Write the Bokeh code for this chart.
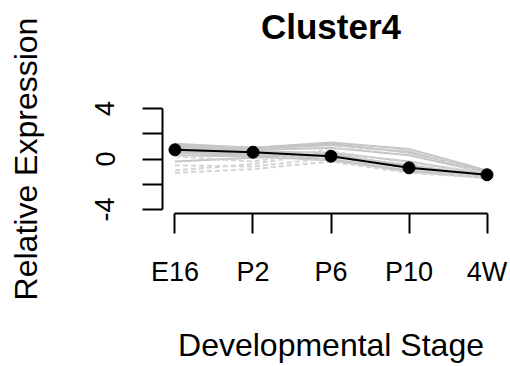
from bokeh.plotting import figure
from bokeh.models import Range1d, FixedTicker, LinearAxis
from bokeh.embed import file_html
from bokeh.resources import INLINE

# Developmental stages along the x axis
stages = ["E16", "P2", "P6", "P10", "4W"]
stage_pos = [0, 1, 2, 3, 4]

# Cluster mean profile
cluster_mean = [0.73, 0.54, 0.22, -0.70, -1.25]

# Individual gene profiles in the cluster
gene_01 = [1.2, 0.9, 1.3, 0.8, -0.9]
gene_02 = [1.0, 0.8, 1.1, 0.6, -1.0]
gene_03 = [0.9, 0.7, 0.9, 0.3, -1.1]
gene_04 = [0.8, 0.6, 0.5, -0.2, -1.2]
gene_05 = [0.7, 0.5, 0.3, -0.5, -1.3]
gene_06 = [0.6, 0.4, 0.2, -0.7, -1.2]
gene_07 = [0.5, 0.3, 0.0, -0.9, -1.4]
gene_08 = [0.3, 0.2, -0.1, -1.0, -1.5]
gene_09 = [-0.2, 0.1, 0.4, -0.6, -1.3]
gene_10 = [-0.5, -0.6, 0.1, -0.8, -1.4]
gene_11 = [-0.9, -0.4, 0.6, -0.3, -1.1]
gene_12 = [-1.1, -0.8, -0.2, -1.1, -1.5]
gene_13 = [1.1, 0.9, 1.2, 0.5, -1.0]
gene_14 = [0.2, -0.2, 0.8, 0.7, -1.2]

genes_solid = [gene_01, gene_02, gene_03, gene_04, gene_05, gene_06,
               gene_07, gene_08, gene_09, gene_13]
genes_dashed = [gene_10, gene_11, gene_12, gene_14]

y_ticks = [-4, -2, 0, 2, 4]
y_tick_labels = {-4: "-4", -2: "", 0: "0", 2: "", 4: "4"}

FONT = "Liberation Sans"

p = figure(width=510, height=366, output_backend="svg", toolbar_location=None,
           x_range=Range1d(-0.16, 4.16), y_range=Range1d(-4.32, 4.32),
           min_border_left=162, min_border_right=11,
           min_border_top=104, min_border_bottom=153)
p.outline_line_color = None
p.xgrid.visible = False
p.ygrid.visible = False
p.background_fill_color = "white"
p.border_fill_color = "white"

xa = p.below[0]
ya = p.left[0]

for g in genes_solid:
    p.line(stage_pos, g, line_color="#c6c6c6", line_width=2)
for g in genes_dashed:
    p.line(stage_pos, g, line_color="#d4d4d4", line_width=2, line_dash="5 3")

p.line(stage_pos, cluster_mean, line_color="black", line_width=2)
p.scatter(stage_pos, cluster_mean, size=12, fill_color="black", line_color="black")

for ax in (xa, ya):
    ax.axis_line_width = 2
    ax.axis_line_color = "black"
    ax.major_tick_line_width = 2
    ax.major_tick_line_color = "black"
    ax.major_tick_in = 0
    ax.major_tick_out = 20
    ax.minor_tick_line_color = None
    ax.major_label_text_font = FONT
    ax.major_label_text_font_size = "27px"
    ax.major_label_text_color = "black"
    ax.axis_label_text_font = FONT
    ax.axis_label_text_font_size = "32px"
    ax.axis_label_text_font_style = "normal"
    ax.axis_label_text_color = "black"

xa.ticker = FixedTicker(ticks=stage_pos)
xa.major_label_overrides = {i: s for i, s in zip(stage_pos, stages)}
xa.bounds = (0, 4)
xa.major_label_standoff = 23
xa.axis_label = "Developmental Stage"
xa.axis_label_standoff = 37

ya.ticker = FixedTicker(ticks=y_ticks)
ya.major_label_overrides = y_tick_labels
ya.major_label_orientation = "vertical"
ya.bounds = (-4, 4)
ya.major_label_standoff = 28
ya.axis_label = "Relative Expression"
ya.axis_label_standoff = 49

# bare top axis that only carries the panel title
title_axis = LinearAxis(ticker=FixedTicker(ticks=[]), axis_label="Cluster4",
                        axis_line_color=None, major_tick_line_color=None,
                        minor_tick_line_color=None, major_tick_out=0,
                        major_tick_in=0, minor_tick_out=0, minor_tick_in=0,
                        major_label_standoff=0, axis_label_standoff=59,
                        axis_label_text_font=FONT, axis_label_text_font_size="35px",
                        axis_label_text_font_style="bold",
                        axis_label_text_color="black")
p.add_layout(title_axis, "above")

open("out.html", "w").write(file_html(p, INLINE))
